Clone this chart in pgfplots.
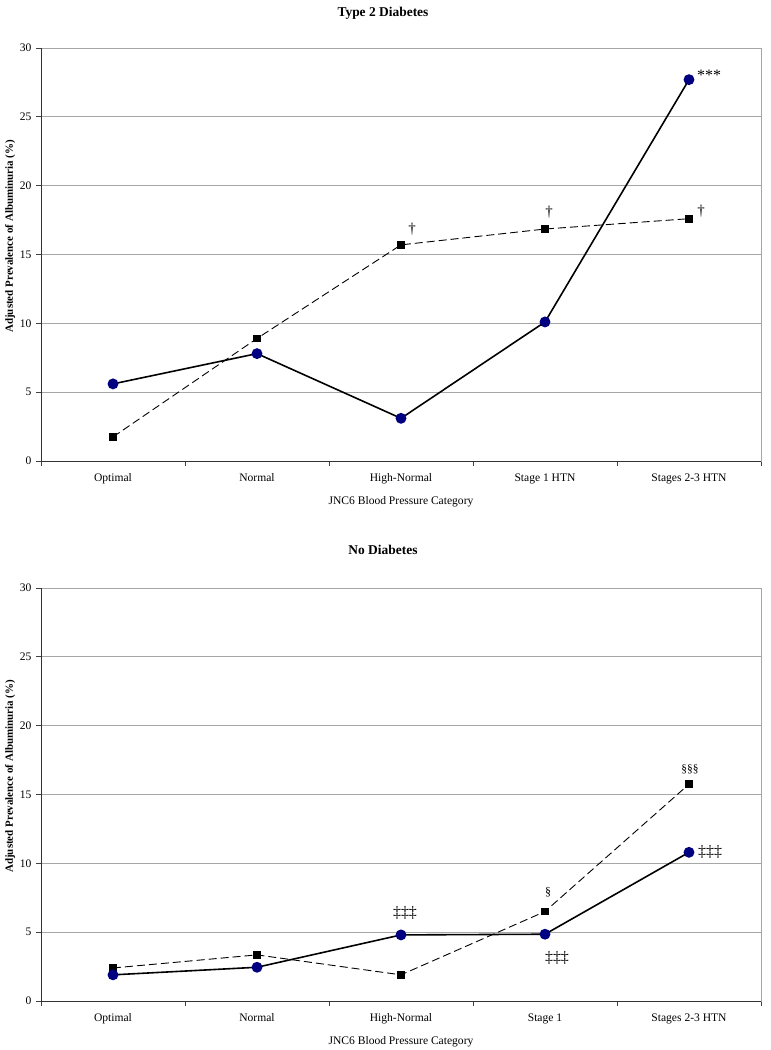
\documentclass[border=0pt]{standalone}
\usepackage{pgfplots}
\pgfplotsset{compat=1.18}
\usepackage{fontspec}
\setmainfont{Liberation Serif}
\definecolor{navy}{RGB}{0,0,128}
\pgfplotsset{
  myax/.style={
    scale only axis, width=720bp, height=413bp,
    xmin=-0.5, xmax=4.5, ymin=0, ymax=30,
    xtick={0,...,4},
    major x tick style={draw=none},
    minor xtick={-0.5,0.5,...,4.5},
    ytick={0,5,...,30},
    xtick pos=bottom, ytick pos=left,
    tick align=outside, major tick length=5bp, minor tick length=5bp,
    tick style={black!75, line width=0.7pt},
    ymajorgrids, grid style={gray!70, line width=0.7pt},
    axis line style={gray!70, line width=0.7pt},
    ticklabel style={font=\fontsize{11.6}{13}\selectfont},
    /pgf/number format/assume math mode=true,
    xticklabel style={yshift=-4bp},
    yticklabel style={xshift=-1bp},
    xlabel={JNC6 Blood Pressure Category},
    xlabel style={font=\fontsize{11.6}{13}\selectfont, yshift=-6bp},
    ylabel={\textbf{Adjusted Prevalence of Albuminuria (\%)}},
    ylabel style={font=\fontsize{11}{12}\selectfont, at={(ticklabel cs:0.544)}, yshift=-2bp},
    clip=false,
  },
  solidser/.style={black, line width=1.6pt, mark=*, mark size=4.6bp,
    mark options={fill=navy, draw=navy, solid}},
  dashser/.style={black, line width=0.9pt, dash pattern=on 8bp off 4bp,
    mark=square*, mark size=3.3bp, mark options={fill=black, draw=black, solid}},
}
\begin{document}
\begin{tikzpicture}
\useasboundingbox (0,0) rectangle (771bp,1050bp);
\node[font=\fontsize{13.5}{15}\selectfont\bfseries] at (383bp,1037bp) {Type 2 Diabetes};
\node[font=\fontsize{13.5}{15}\selectfont\bfseries] at (383bp,500bp) {No Diabetes};
\begin{axis}[myax, at={(41bp,589bp)}, anchor=south west,
  xticklabels={Optimal,Normal,High-Normal,Stage 1 HTN,Stages 2-3 HTN}]
  \addplot[dashser] coordinates {(0,1.75) (1,8.9) (2,15.7) (3,16.85) (4,17.6)};
  \addplot[solidser] coordinates {(0,5.6) (1,7.8) (2,3.1) (3,10.1) (4,27.7)};
  \draw[black!80, line width=0.8pt] (rel axis cs:0,1) -- (rel axis cs:0,0) -- (rel axis cs:1,0);
  \node[font=\fontsize{16}{16}\selectfont, anchor=west, inner sep=0pt] at (axis cs:4,27.7) [xshift=8bp, yshift=4bp] {***};
  \node[font=\fontsize{15}{16}\selectfont] at (axis cs:2,15.7) [xshift=11bp, yshift=16bp] {†};
  \node[font=\fontsize{15}{16}\selectfont] at (axis cs:3,16.85) [xshift=4bp, yshift=17bp] {†};
  \node[font=\fontsize{15}{16}\selectfont] at (axis cs:4,17.6) [xshift=12bp, yshift=8bp] {†};
\end{axis}
\begin{axis}[myax, at={(41bp,49bp)}, anchor=south west,
  xticklabels={Optimal,Normal,High-Normal,Stage 1,Stages 2-3 HTN}]
  \addplot[dashser] coordinates {(0,2.4) (1,3.35) (2,1.9) (3,6.5) (4,15.75)};
  \addplot[solidser] coordinates {(0,1.9) (1,2.45) (2,4.8) (3,4.85) (4,10.8)};
  \draw[black!80, line width=0.8pt] (rel axis cs:0,1) -- (rel axis cs:0,0) -- (rel axis cs:1,0);
  \node[font=\fontsize{16}{16}\selectfont] at (axis cs:2,4.8) [xshift=4bp, yshift=22bp] {‡‡‡};
  \node[font=\fontsize{16}{16}\selectfont] at (axis cs:3,4.85) [xshift=12bp, yshift=-24bp] {‡‡‡};
  \node[font=\fontsize{16}{16}\selectfont, anchor=west, inner sep=0pt] at (axis cs:4,10.8) [xshift=9bp] {‡‡‡};
  \node[font=\fontsize{12}{12}\selectfont] at (axis cs:3,6.5) [xshift=3bp, yshift=19bp] {§};
  \node[font=\fontsize{11.5}{12}\selectfont] at (axis cs:4,15.75) [xshift=1bp, yshift=15bp] {§§§};
\end{axis}
\end{tikzpicture}
\end{document}
